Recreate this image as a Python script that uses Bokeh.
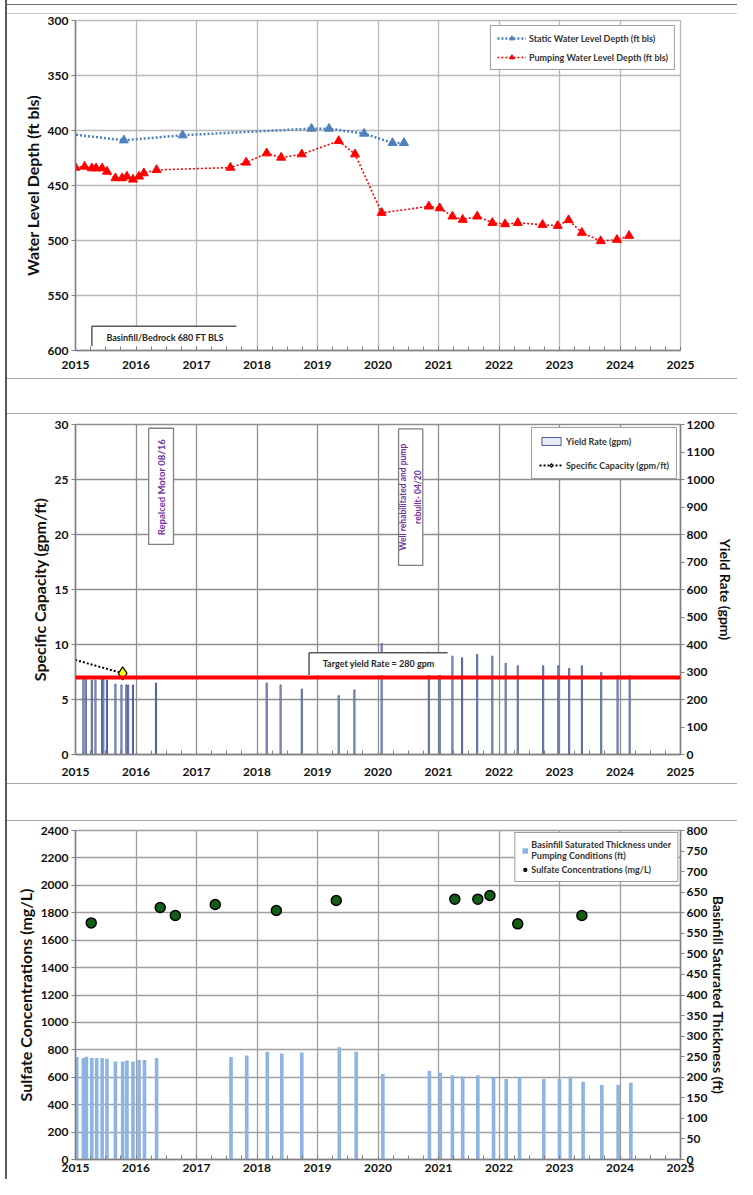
import math
from bokeh.plotting import figure
from bokeh.models import (Range1d, LinearAxis, SingleIntervalTicker, FixedTicker,
                          Legend, LegendItem, Span, Spacer)
from bokeh.layouts import column, row
from bokeh.core.properties import value
from bokeh.embed import file_html
from bokeh.resources import INLINE

# ---------------- data ----------------
year_ticks = [2015, 2016, 2017, 2018, 2019, 2020, 2021, 2022, 2023, 2024, 2025]
depth_ticks = [300, 350, 400, 450, 500, 550, 600]
sc_ticks = [0, 5, 10, 15, 20, 25, 30]
yield_ticks = [0, 100, 200, 300, 400, 500, 600, 700, 800, 900, 1000, 1100, 1200]
sulfate_ticks = [0, 200, 400, 600, 800, 1000, 1200, 1400, 1600, 1800, 2000, 2200, 2400]
sat_ticks = [0, 50, 100, 150, 200, 250, 300, 350, 400, 450, 500, 550, 600, 650, 700, 750, 800]

static_dates = [2014.55, 2015.80, 2016.77, 2018.90, 2019.19, 2019.77, 2020.24, 2020.43]
static_depth = [401.0, 408.9, 404.3, 398.3, 398.3, 402.8, 411.3, 411.3]

pump_dates = [2015.00, 2015.15, 2015.27, 2015.34, 2015.44, 2015.52, 2015.66, 2015.77, 2015.85,
              2015.95, 2016.05, 2016.13, 2016.34, 2017.56, 2017.82, 2018.16, 2018.40, 2018.74,
              2019.35, 2019.62, 2020.06, 2020.84, 2021.02, 2021.23, 2021.40, 2021.64, 2021.89,
              2022.10, 2022.31, 2022.72, 2022.97, 2023.15, 2023.37, 2023.68, 2023.95, 2024.15]
pump_depth = [433.7, 432.8, 434.3, 434.3, 434.3, 437.3, 443.3, 443.3, 441.8,
              444.5, 441.8, 438.8, 435.8, 433.7, 429.1, 420.7, 424.6, 421.6,
              409.5, 421.6, 474.8, 469.0, 470.6, 478.1, 481.1, 478.1, 483.9,
              485.1, 483.9, 485.7, 486.6, 481.4, 492.9, 500.5, 499.3, 495.7]

yield_dates = [2015.13, 2015.17, 2015.27, 2015.33, 2015.44, 2015.46, 2015.52, 2015.66, 2015.76,
               2015.84, 2015.87, 2015.95, 2016.33, 2018.16, 2018.39, 2018.74, 2019.35, 2019.61,
               2020.06, 2020.84, 2021.02, 2021.23, 2021.39, 2021.64, 2021.89, 2022.11, 2022.31,
               2022.73, 2022.98, 2023.16, 2023.37, 2023.69, 2023.96, 2024.16]
yield_gpm = [280, 280, 271, 271, 278, 278, 271, 256, 253,
             253, 253, 253, 260, 260, 253, 238, 214, 235,
             404, 372, 362, 358, 352, 364, 358, 332, 323,
             323, 323, 313, 323, 298, 287, 287]

sc_dates = [2014.55, 2015.78]
sc_values = [9.3, 7.38]
target_yield = 280

sat_dates = [2015.02, 2015.13, 2015.18, 2015.27, 2015.35, 2015.44, 2015.52, 2015.66, 2015.78,
             2015.85, 2015.95, 2016.05, 2016.14, 2016.34, 2017.57, 2017.83, 2018.17, 2018.41,
             2018.74, 2019.36, 2019.64, 2020.08, 2020.85, 2021.03, 2021.23, 2021.40, 2021.65,
             2021.91, 2022.12, 2022.34, 2022.74, 2023.00, 2023.18, 2023.39, 2023.70, 2023.97, 2024.18]
sat_ft = [249, 247, 250, 247, 247, 247, 245, 238, 238,
          241, 238, 242, 242, 247, 249, 253, 262, 258,
          260, 273, 262, 208, 216, 211, 205, 202, 205,
          199, 196, 199, 196, 196, 201, 189, 181, 182, 187]

sulfate_dates = [2015.26, 2016.40, 2016.65, 2017.31, 2018.32, 2019.31, 2021.27, 2021.65, 2021.85, 2022.31, 2023.37]
sulfate_mgl = [1726, 1838, 1780, 1860, 1816, 1889, 1899, 1899, 1926, 1719, 1780]

basin_label = "Basinfill/Bedrock 680 FT BLS"
motor_label = "Repalced Motor 08/16"
rehab_label = "Well rehabilitated and pump\nrebuilt- 04/20"
target_label = "Target yield Rate = 280 gpm"

# ---------------- styling helpers ----------------
W = 730
FONT = "Lato"
BLUE = "#4f81bd"
RED = "#ff0000"
PURPLE = "#7030a0"


def style_axis(ax, title_size="16px"):
    ax.major_label_text_font = FONT
    ax.major_label_text_font_style = "bold"
    ax.major_label_text_font_size = "12px"
    ax.major_label_text_color = "#111111"
    ax.axis_label_text_font = FONT
    ax.axis_label_text_font_style = "bold"
    ax.axis_label_text_font_size = title_size
    ax.axis_label_text_color = "#111111"
    ax.axis_line_color = "#808080"
    ax.axis_line_width = 1.5
    ax.major_tick_line_color = "#808080"
    ax.minor_tick_line_color = "#808080"


def style_yaxis(ax, ticks, title_size="16px", label_standoff=3, title_standoff=3):
    style_axis(ax, title_size)
    ax.ticker = FixedTicker(ticks=ticks)
    ax.major_tick_out = 4
    ax.major_tick_in = 0
    ax.minor_tick_out = 0
    ax.minor_tick_in = 0
    ax.major_label_standoff = label_standoff
    ax.axis_label_standoff = title_standoff


def base_fig(height, y_range, y_ticks, y_title, b_top, b_bottom, grid_color, x_standoff):
    p = figure(width=W, height=height, x_range=Range1d(2015, 2025), y_range=y_range,
               output_backend="svg", toolbar_location=None,
               min_border_left=68, min_border_right=48,
               min_border_top=b_top, min_border_bottom=b_bottom)
    p.background_fill_color = "white"
    p.border_fill_color = "white"
    p.outline_line_color = grid_color
    p.outline_line_width = 1.3
    xa = p.xaxis[0]
    style_axis(xa)
    xa.ticker = SingleIntervalTicker(interval=1, num_minor_ticks=4)
    xa.major_tick_out = 0
    xa.major_tick_in = 0
    xa.minor_tick_in = 4
    xa.minor_tick_out = 0
    xa.major_label_standoff = x_standoff
    ya = p.yaxis[0]
    style_yaxis(ya, y_ticks)
    ya.axis_label = y_title
    p.xgrid.ticker = FixedTicker(ticks=year_ticks)
    p.ygrid.ticker = FixedTicker(ticks=y_ticks)
    p.xgrid.grid_line_color = grid_color
    p.ygrid.grid_line_color = grid_color
    p.xgrid.grid_line_width = 1.3
    p.ygrid.grid_line_width = 1.3
    return p


def style_legend(leg, font_size, glyph_w, glyph_h, spacing, padding, margin):
    leg.location = "top_right"
    leg.margin = margin
    leg.padding = padding
    leg.spacing = spacing
    leg.border_line_color = "#404040"
    leg.border_line_width = 1.5
    leg.background_fill_color = "white"
    leg.background_fill_alpha = 1.0
    leg.label_text_font = FONT
    leg.label_text_font_style = "bold"
    leg.label_text_font_size = font_size
    leg.label_text_color = "#333333"
    leg.glyph_width = glyph_w
    leg.glyph_height = glyph_h
    leg.label_height = 12
    leg.label_standoff = 3


def ann_text(p, x, y, txt, size, color, angle=0.0, lh=1.2):
    p.text(x=[x], y=[y], text=[txt], angle=angle, text_align="center", text_baseline="middle",
           text_font=value(FONT), text_font_style="bold", text_font_size=size,
           text_color=color, text_line_height=lh)


def bracket_box(p, l, r, t, b):
    p.quad(left=[l], right=[r], top=[t], bottom=[b], fill_color="white", line_color=None)
    p.segment(x0=[l, l], y0=[t, t], x1=[r, l], y1=[t, b], line_color="#595959", line_width=1.5)


# ---------------- panel 1: water levels ----------------
p1 = base_fig(364, Range1d(600, 300), depth_ticks, "Water Level Depth (ft bls)", 6, 28, "#b8b8b8", 10)

r_sl = p1.line(static_dates, static_depth, line_color=BLUE, line_width=2.5, line_dash="2 2")
r_sp = p1.scatter(static_dates, static_depth, marker="triangle", size=9, fill_color=BLUE, line_color=BLUE)
r_pl = p1.line(pump_dates, pump_depth, line_color=RED, line_width=1.6, line_dash="2 2")
r_pp = p1.scatter(pump_dates, pump_depth, marker="triangle", size=9, fill_color=RED, line_color=RED)

bracket_box(p1, 2015.27, 2017.66, 578, 596)
ann_text(p1, 2016.48, 588.2, basin_label, "9px", "#262626")

leg1 = Legend(items=[LegendItem(label="Static Water Level Depth (ft bls)", renderers=[r_sl, r_sp]),
                     LegendItem(label="Pumping Water Level Depth (ft bls)", renderers=[r_pl, r_pp])])
style_legend(leg1, "9px", 29, 12, 7, 6, 5)
p1.add_layout(leg1)

# ---------------- panel 2: specific capacity / yield ----------------
p2 = base_fig(369, Range1d(0, 30), sc_ticks, "Specific Capacity (gpm/ft)", 10, 29, "#8f8f8f", 13)
p2.extra_y_ranges = {"yield": Range1d(0, 1200)}
ax2r = LinearAxis(y_range_name="yield", axis_label="Yield Rate (gpm)")
style_yaxis(ax2r, yield_ticks, title_size="14px", label_standoff=2, title_standoff=0)
p2.add_layout(ax2r, "right")

r_y = p2.vbar(x=yield_dates, top=yield_gpm, bottom=0, width=0.018, y_range_name="yield",
              fill_color="#e6ebf5", line_color="#4e5f99", line_width=1)
r_scl = p2.line(sc_dates, sc_values, line_color="black", line_width=2, line_dash="2 2")
r_scp = p2.scatter(sc_dates, sc_values, marker="diamond", size=13, fill_color="#ffff00",
                   line_color="black", line_width=1.2)

p2.add_layout(Span(location=target_yield, dimension="width", y_range_name="yield",
                   line_color=RED, line_width=4))

p2.quad(left=[2016.21], right=[2016.62], top=[29.66], bottom=[19.1], fill_color="white",
        line_color="#7f7f7f", line_width=1.3)
ann_text(p2, 2016.415, 24.3, motor_label, "9.5px", PURPLE, angle=math.pi / 2)
p2.quad(left=[2020.34], right=[2020.74], top=[29.6], bottom=[17.2], fill_color="white",
        line_color="#7f7f7f", line_width=1.3)
ann_text(p2, 2020.54, 23.4, rehab_label, "8.5px", PURPLE, angle=math.pi / 2, lh=1.5)
bracket_box(p2, 2018.86, 2021.15, 9.26, 7.23)
ann_text(p2, 2020.01, 8.23, target_label, "9px", "#262626")

leg2 = Legend(items=[LegendItem(label="Yield Rate (gpm)", renderers=[r_y]),
                     LegendItem(label="Specific Capacity (gpm/ft)", renderers=[r_scl, r_scp])])
style_legend(leg2, "9px", 24, 10, 12, 7, 3)
p2.add_layout(leg2)

# ---------------- panel 3: sulfate / saturated thickness ----------------
p3 = base_fig(358, Range1d(0, 2400), sulfate_ticks, "Sulfate Concentrations (mg/L)", 9, 20, "#9e9e9e", 4)
p3.extra_y_ranges = {"sat": Range1d(0, 800)}
ax3r = LinearAxis(y_range_name="sat", axis_label="Basinfill Saturated Thickness (ft)")
style_yaxis(ax3r, sat_ticks, title_size="14px", label_standoff=2, title_standoff=0)
p3.add_layout(ax3r, "right")

r_sat = p3.vbar(x=sat_dates, top=sat_ft, bottom=0, width=0.06, y_range_name="sat",
                fill_color="#8db4e2", line_color=None)
r_su = p3.scatter(sulfate_dates, sulfate_mgl, marker="circle", size=10, fill_color="#135e17",
                  line_color="black", line_width=1.5)

leg3 = Legend(items=[LegendItem(label="Basinfill Saturated Thickness under\nPumping Conditions (ft)", renderers=[r_sat]),
                     LegendItem(label="Sulfate Concentrations (mg/L)", renderers=[r_su])])
style_legend(leg3, "9px", 7, 7, 2, 6, 2)
leg3.label_text_line_height = 1.5
p3.add_layout(leg3)


def sep(color="#a6a6a6"):
    return Spacer(width=W, height=1, styles={"background-color": color})


col = column(Spacer(width=W, height=4), sep("#6a6a6a"), Spacer(width=W, height=8), sep("#c8c8c8"),
             p1, sep(), Spacer(width=W, height=34), sep(), p2, sep(),
             Spacer(width=W, height=36), sep(), p3,
             styles={"border-left": "2px solid #5a5a5a"})
layout = row(Spacer(width=5, height=10), col)

open("out.html", "w").write(file_html(layout, INLINE))
